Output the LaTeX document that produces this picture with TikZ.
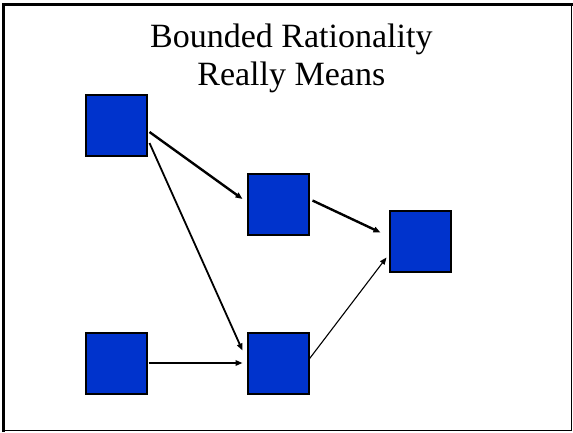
\documentclass[tikz,border=0pt]{standalone}
\usepackage{fontspec}
\setmainfont{Liberation Serif}
\usetikzlibrary{arrows.meta,calc}
\definecolor{boxblue}{RGB}{0,51,204}
\tikzset{
  sq/.style={draw=black, line width=2pt, fill=boxblue, minimum size=61pt, inner sep=0pt, outer sep=0pt},
  arr/.style={-{Triangle[length=7pt,width=5.5pt]}},
}
\begin{document}
\begin{tikzpicture}[x=1pt,y=-1pt]
\useasboundingbox (0,0) rectangle (573,432);
\fill[white] (0,0) rectangle (573,432);
% frame
\draw[line width=1.3pt] (3.2,4.8) rectangle (571.3,430.7);
\draw[line width=3pt] (3.2,432) -- (3.2,4.8) -- (573,4.8);
% title
\node[font=\fontsize{34}{38}\selectfont, align=center, anchor=base] (title) at (291.3,85) {Bounded Rationality\\Really Means};
% squares
\node[sq] (s1) at (116,125.5) {};
\node[sq] (s2) at (278,204) {};
\node[sq] (s3) at (420,241.5) {};
\node[sq] (s4) at (116,363) {};
\node[sq] (s5) at (278,363) {};
% arrows
\draw[arr, line width=2.4pt] ([shift={(3,6.5)}]s1.east) -- ([shift={(-5,-5)}]s2.west);
\draw[arr, line width=1.8pt] ([shift={(3,17.5)}]s1.east) -- ([shift={(-5,-12.5)}]s5.west);
\draw[arr, line width=1.6pt] ([shift={(2,0)}]s4.east) -- ([shift={(-5,0)}]s5.west);
\draw[arr, line width=2.4pt] ([shift={(4,-3.5)}]s2.east) -- ([shift={(-9,-9)}]s3.west);
\draw[arr, line width=1.1pt] ([shift={(0,-3)}]s5.east) -- ([shift={(-3,16)}]s3.west);
\end{tikzpicture}
\end{document}
